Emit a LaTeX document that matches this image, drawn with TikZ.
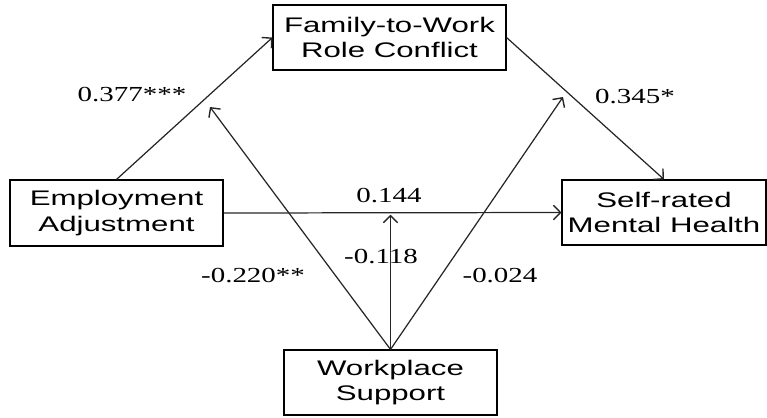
\documentclass[tikz,border=0pt]{standalone}
\usepackage{fontspec}
\usepackage{tikz}
\usetikzlibrary{arrows.meta}
\newfontfamily\boxfont[FakeStretch=1.48]{Liberation Sans}
\newfontfamily\coeffont[FakeStretch=1.35]{Liberation Serif}
\tikzset{
  var/.style={draw, line width=0.65pt, align=center, inner sep=0pt, minimum height=1.3cm,
              font=\boxfont\fontsize{12}{14.4}\selectfont},
  rel/.style={-{Straight Barb[length=1.4mm,width=2.9mm,line width=0.8pt]}, line width=0.7pt, black!85},
  coef/.style={font=\coeffont\fontsize{12.2}{14}\selectfont, inner sep=0pt}
}

\begin{document}
\begin{tikzpicture}[x=0.02cm, y=-0.02cm]
\useasboundingbox (0,0) rectangle (767,417);
% variables
\node[var, minimum width=4.66cm] (fam) at (389.5,37.5) {Family-to-Work\\Role Conflict};
\node[var, minimum width=4.26cm, minimum height=1.32cm] (emp) at (116.5,213) {Employment\\Adjustment};
\node[var, minimum width=4.08cm] (self) at (664,212.5) {Self-rated\\Mental Health};
\node[var, minimum width=4.26cm] (work) at (390.5,382.5) {Workplace\\Support};
% moderator targets
\coordinate (m1) at (210,107);
\coordinate (m2) at (563,97);
% paths
\draw[rel] (emp.north) -- (fam.west);
\draw[rel] (fam.east) -- (self.north);
\draw[rel] (emp.east) -- (self.west);
\draw[rel] (work.north) -- (m1);
\draw[rel] (work.north) -- (m2);
\draw[rel, shorten >=1pt] (work.north) -- (work.north |- emp.east);
% coefficients
\node[coef] (c1) at (132,95) {0.377***};
\node[coef] (c2) at (635,97) {0.345*};
\node[coef] (c3) at (389,196) {0.144};
\node[coef] (c4) at (381,257) {-0.118};
\node[coef] (c5) at (253,276) {-0.220**};
\node[coef] (c6) at (500,276) {-0.024};
\end{tikzpicture}
\end{document}
